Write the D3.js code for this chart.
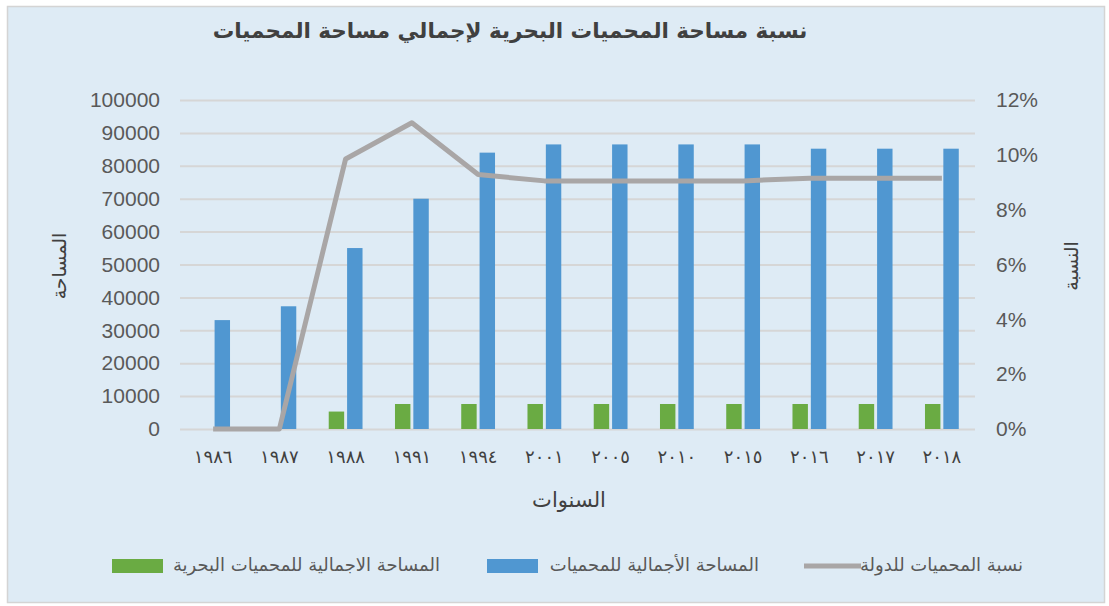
<!DOCTYPE html>
<html>
<head>
<meta charset="utf-8">
<script src="https://cdn.jsdelivr.net/npm/d3@7"></script>
<style>
  body { margin: 0; background: #fff; }
  svg { display: block; }
</style>
</head>
<body>
<div id="chart"></div>
<script>
// chart data
const years = ['١٩٨٦', '١٩٨٧', '١٩٨٨', '١٩٩١', '١٩٩٤', '٢٠٠١', '٢٠٠٥', '٢٠١٠', '٢٠١٥', '٢٠١٦', '٢٠١٧', '٢٠١٨'];
const marineArea = [0, 0, 5300, 7600, 7600, 7600, 7600, 7600, 7600, 7600, 7600, 7600];
const totalArea = [33100, 37300, 55000, 70000, 84000, 86500, 86500, 86500, 86500, 85200, 85200, 85200];
const ratio = [0, 0, 0.0985, 0.1117, 0.0928, 0.0905, 0.0905, 0.0905, 0.0905, 0.0915, 0.0915, 0.0915];
const areaTicks = [0, 10000, 20000, 30000, 40000, 50000, 60000, 70000, 80000, 90000, 100000];
const ratioTicks = [0, 0.02, 0.04, 0.06, 0.08, 0.10, 0.12];

const seriesNames = ['المساحة الاجمالية للمحميات البحرية', 'المساحة الأجمالية للمحميات', 'نسبة المحميات للدولة'];
const colors = { marine: '#6aab43', total: '#5097d1', line: '#a9a6a6' };

const W = 1109, H = 606;
const margin = { top: 100, right: 134, bottom: 177, left: 180 };
const arabicFont = '"DejaVu Sans", sans-serif';
const numFont = '"Liberation Sans", Arial, sans-serif';

const svg = d3.select('#chart').append('svg')
  .attr('width', W)
  .attr('height', H);

// background panel
svg.append('rect')
  .attr('x', 7.5).attr('y', 6.5)
  .attr('width', W - 12).attr('height', H - 10)
  .attr('fill', '#deebf5')
  .attr('stroke', '#d4d4d4')
  .attr('stroke-width', 1.5);

const x0 = d3.scaleBand()
  .domain(years)
  .range([margin.left, W - margin.right])
  .paddingInner(0.49)
  .paddingOuter(0.245);

const x1 = d3.scaleBand()
  .domain(['marine', 'total'])
  .range([0, x0.bandwidth()])
  .paddingInner(0.16);

const y = d3.scaleLinear()
  .domain([0, 100000])
  .range([H - margin.bottom, margin.top]);

const yR = d3.scaleLinear()
  .domain([0, 0.12])
  .range([H - margin.bottom, margin.top]);

// gridlines
svg.append('g')
  .attr('class', 'grid')
  .attr('transform', `translate(${margin.left},0)`)
  .call(d3.axisLeft(y).tickValues(areaTicks).tickSize(-(W - margin.left - margin.right)).tickFormat(''))
  .call(g => g.select('.domain').remove())
  .call(g => g.selectAll('line').attr('stroke', '#d6d6d6').attr('stroke-width', 2));

// left axis
svg.append('g')
  .attr('transform', `translate(${margin.left},0)`)
  .call(d3.axisLeft(y).tickValues(areaTicks).tickSize(0).tickPadding(20).tickFormat(d3.format('d')))
  .call(g => g.select('.domain').remove())
  .call(g => g.selectAll('text')
    .attr('fill', '#595959')
    .style('font-family', numFont)
    .style('font-size', '21px'));

// right axis
svg.append('g')
  .attr('transform', `translate(${W - margin.right},0)`)
  .call(d3.axisRight(yR).tickValues(ratioTicks).tickSize(0).tickPadding(21).tickFormat(d3.format('.0%')))
  .call(g => g.select('.domain').remove())
  .call(g => g.selectAll('text')
    .attr('fill', '#595959')
    .style('font-family', numFont)
    .style('font-size', '21px'));

// bottom axis
svg.append('g')
  .attr('transform', `translate(0,${H - margin.bottom})`)
  .call(d3.axisBottom(x0).tickSize(0).tickPadding(21))
  .call(g => g.select('.domain').remove())
  .call(g => g.selectAll('text')
    .attr('fill', '#404040')
    .attr('letter-spacing', '4px')
    .style('font-family', arabicFont)
    .style('font-size', '18px'));

// bars
const groups = svg.append('g')
  .selectAll('g')
  .data(years.map((yr, i) => ({ yr, marine: marineArea[i], total: totalArea[i] })))
  .enter()
  .append('g')
  .attr('transform', d => `translate(${x0(d.yr)},0)`);

groups.selectAll('rect')
  .data(d => ['marine', 'total'].map(k => ({ key: k, value: d[k] })))
  .enter()
  .append('rect')
  .attr('x', d => x1(d.key))
  .attr('y', d => y(d.value))
  .attr('width', x1.bandwidth())
  .attr('height', d => y(0) - y(d.value))
  .attr('fill', d => colors[d.key]);

// ratio line
const line = d3.line()
  .x((d, i) => x0(years[i]) + x0.bandwidth() / 2)
  .y(d => yR(d));

svg.append('path')
  .datum(ratio)
  .attr('d', line)
  .attr('fill', 'none')
  .attr('stroke', colors.line)
  .attr('stroke-width', 5)
  .attr('stroke-linejoin', 'round');

// title
svg.append('text')
  .attr('x', 510)
  .attr('y', 38)
  .attr('text-anchor', 'middle')
  .attr('direction', 'rtl')
  .attr('fill', '#404040')
  .style('font-family', arabicFont)
  .style('font-weight', 'bold')
  .style('font-size', '21.5px')
  .text('نسبة مساحة المحميات البحرية لإجمالي مساحة المحميات');

// axis titles
svg.append('text')
  .attr('transform', 'translate(60,266) rotate(-90)')
  .attr('text-anchor', 'middle')
  .attr('dominant-baseline', 'middle')
  .attr('fill', '#404040')
  .style('font-family', arabicFont)
  .style('font-size', '19px')
  .text('المساحة');

svg.append('text')
  .attr('transform', 'translate(1072,266) rotate(-90)')
  .attr('text-anchor', 'middle')
  .attr('dominant-baseline', 'middle')
  .attr('fill', '#404040')
  .style('font-family', arabicFont)
  .style('font-size', '19px')
  .text('النسبة');

svg.append('text')
  .attr('x', 569)
  .attr('y', 507)
  .attr('text-anchor', 'middle')
  .attr('fill', '#404040')
  .style('font-family', arabicFont)
  .style('font-size', '21px')
  .text('السنوات');

// legend
const legendY = 566;
const legendItems = [
  { name: seriesNames[2], type: 'line', sx: 804, tx: 1023 },
  { name: seriesNames[1], type: 'rect', color: colors.total, sx: 487, tx: 759 },
  { name: seriesNames[0], type: 'rect', color: colors.marine, sx: 112, tx: 440 }
];

const legend = svg.append('g');
legendItems.forEach(item => {
  if (item.type === 'line') {
    legend.append('line')
      .attr('x1', item.sx).attr('x2', item.sx + 57)
      .attr('y1', legendY).attr('y2', legendY)
      .attr('stroke', colors.line)
      .attr('stroke-width', 5);
  } else {
    legend.append('rect')
      .attr('x', item.sx).attr('y', legendY - 7)
      .attr('width', 51).attr('height', 14)
      .attr('fill', item.color);
  }
  legend.append('text')
    .attr('x', item.tx)
    .attr('y', legendY)
    .attr('text-anchor', 'start')
    .attr('direction', 'rtl')
    .attr('dominant-baseline', 'middle')
    .attr('fill', '#595959')
    .style('font-family', arabicFont)
    .style('font-size', '18px')
    .text(item.name);
});
</script>
</body>
</html>
